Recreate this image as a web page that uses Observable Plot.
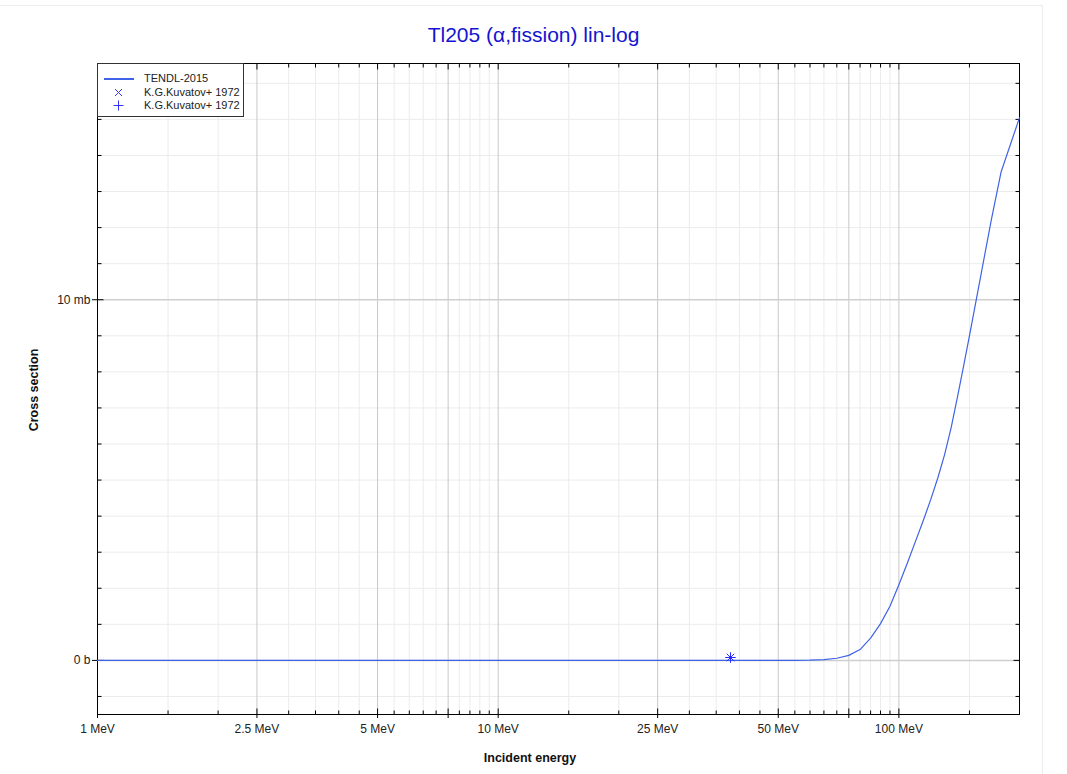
<!DOCTYPE html>
<html><head><meta charset="utf-8">
<script src="https://cdn.jsdelivr.net/npm/d3@7"></script>
<script src="https://cdn.jsdelivr.net/npm/@observablehq/plot@0.6"></script>
<style>
body{margin:0;background:#fff;font-family:"Liberation Sans",Arial,sans-serif;}
#wrap{position:relative;width:1067px;height:774px;overflow:hidden;}
#outer{position:absolute;left:-2px;top:5px;width:1044px;height:800px;border-top:1px solid #ececec;border-right:1px solid #ececec;}
#title{position:absolute;top:23px;left:0;width:1067px;text-align:center;color:#1414d2;font-size:21px;}
#legend{position:absolute;left:97px;top:63px;width:145px;height:52px;border:1px solid #333;background:#fff;font-size:11px;color:#222;}
.row{position:absolute;left:0;height:13px;width:145px;}
.row span.t{position:absolute;left:46px;top:0;line-height:13px;}
.row .ln{position:absolute;left:6px;top:6px;width:30px;height:0;border-top:2px solid #3f63e6;}
.row svg{position:absolute;left:15px;top:1px;}
#xt{position:absolute;top:751px;left:430px;width:200px;text-align:center;font-weight:bold;font-size:12.5px;color:#111;}
#yt{position:absolute;left:34px;top:390px;transform:translate(-50%,-50%) rotate(-90deg);font-weight:bold;font-size:12.5px;color:#111;white-space:nowrap;}
</style></head>
<body><div id="wrap"><div id="outer"></div><div id="chart"></div>
<div id="title">Tl205 (α,fission) lin-log</div>
<div id="legend">
 <div class="row" style="top:8px"><div class="ln"></div><span class="t">TENDL-2015</span></div>
 <div class="row" style="top:22px"><svg width="11" height="11"><path d="M2,2L9,9M9,2L2,9" stroke="#3333ff" stroke-width="1" fill="none"/></svg><span class="t">K.G.Kuvatov+ 1972</span></div>
 <div class="row" style="top:35px"><svg width="11" height="11"><path d="M5.5,0.5V10.5M0.5,5.5H10.5" stroke="#3333ff" stroke-width="1" fill="none"/></svg><span class="t">K.G.Kuvatov+ 1972</span></div>
</div>
<div id="xt">Incident energy</div>
<div id="yt">Cross section</div>
</div>
<script>
// TENDL-2015 evaluated curve (energy MeV, cross section mb)
const tendlEnergy = [1, 5, 10, 20, 30, 40, 50, 55, 60, 65, 70, 75, 80, 85, 90, 95, 100, 105, 110, 115, 120, 125, 130, 135, 140, 145, 150, 160, 170, 180, 200];
const tendlSigma  = [0, 0, 0, 0, 0, 0, 0, 0, 0.005, 0.02, 0.06, 0.14, 0.30, 0.62, 1.02, 1.5, 2.1, 2.7, 3.3, 3.87, 4.45, 5.05, 5.7, 6.45, 7.3, 8.15, 9.0, 10.65, 12.2, 13.55, 15.05];
// EXFOR points K.G.Kuvatov+ 1972
const kuvX_E = [38]; const kuvX_S = [0.08];
const kuvP_E = [38]; const kuvP_S = [0.08];
// ticks
const xLabeled = [1, 2.5, 5, 7.5, 10, 25, 50, 75, 100];
const xLabelText = ["1 MeV", "2.5 MeV", "5 MeV", "", "10 MeV", "25 MeV", "50 MeV", "", "100 MeV"];
const xMinor = [1.5, 2, 3, 3.5, 4, 4.5, 5.5, 6, 6.5, 7, 8, 8.5, 9, 9.5, 15, 20, 30, 35, 40, 45, 55, 60, 65, 70, 80, 85, 90, 95, 150];
const yMajor = [0, 10];
const yLabelText = ["0 b", "10 mb"];
const yMinor = [-1, 1, 2, 3, 4, 5, 6, 7, 8, 9, 11, 12, 13, 14, 15, 16];

const tendl = tendlEnergy.map((e, i) => ({e, s: tendlSigma[i]}));
const kx = kuvX_E.map((e, i) => ({e, s: kuvX_S[i]}));
const kp = kuvP_E.map((e, i) => ({e, s: kuvP_S[i]}));

const seg = (dx, dy) => ({draw(ctx, size) { const r = Math.sqrt(size / Math.PI); ctx.moveTo(0, 0); ctx.lineTo(dx * r, dy * r); }});
const up = seg(0, -1), down = seg(0, 1), right = seg(1, 0), left = seg(-1, 0);
const tk = (data, opts) => Plot.dot(data, {fill: "none", stroke: "#000", strokeWidth: 1, ...opts});

const chart = Plot.plot({
  width: 1067, height: 774,
  marginLeft: 97, marginRight: 48, marginTop: 63, marginBottom: 60,
  style: {fontFamily: "'Liberation Sans', Arial, sans-serif", fontSize: "12px", color: "#222", background: "transparent"},
  x: {type: "log", domain: [1, 200]},
  y: {domain: [-1.5, 16.55]},
  marks: [
    Plot.gridX(xMinor, {stroke: "#ececec", strokeOpacity: 1}),
    Plot.gridY(yMinor, {stroke: "#ececec", strokeOpacity: 1}),
    Plot.gridX(xLabeled, {stroke: "#c8c8c8", strokeOpacity: 1}),
    Plot.gridY(yMajor, {stroke: "#cfcfcf", strokeOpacity: 1, strokeWidth: 1.5}),
    Plot.axisX(xLabeled, {anchor: "bottom", tickSize: 4, tickPadding: 6, label: null, tickFormat: d => xLabelText[xLabeled.indexOf(d)], stroke: "#000"}),
    Plot.axisY(yMajor, {anchor: "left", tickSize: 5, tickPadding: 2, label: null, tickFormat: d => yLabelText[yMajor.indexOf(d)], stroke: "#000"}),
    tk(xLabeled, {x: d => d, frameAnchor: "bottom", symbol: up, r: 6}),
    tk(xMinor, {x: d => d, frameAnchor: "bottom", symbol: up, r: 4}),
    tk(xLabeled, {x: d => d, frameAnchor: "top", symbol: down, r: 6}),
    tk(xMinor, {x: d => d, frameAnchor: "top", symbol: down, r: 4}),
    tk(yMajor, {y: d => d, frameAnchor: "left", symbol: right, r: 6}),
    tk(yMinor, {y: d => d, frameAnchor: "left", symbol: right, r: 4}),
    tk(yMajor, {y: d => d, frameAnchor: "right", symbol: left, r: 6}),
    tk(yMinor, {y: d => d, frameAnchor: "right", symbol: left, r: 4}),
    Plot.frame({stroke: "#000", strokeWidth: 1}),
    Plot.line(tendl, {x: "e", y: "s", stroke: "#3f63e6", strokeWidth: 1.2}),
    Plot.dot(kx, {x: "e", y: "s", symbol: "times", r: 3.5, stroke: "#2b2bff", strokeWidth: 1}),
    Plot.dot(kp, {x: "e", y: "s", symbol: "plus", r: 3.5, stroke: "#2b2bff", strokeWidth: 1})
  ]
});
document.getElementById("chart").appendChild(chart);
</script>
</body></html>
